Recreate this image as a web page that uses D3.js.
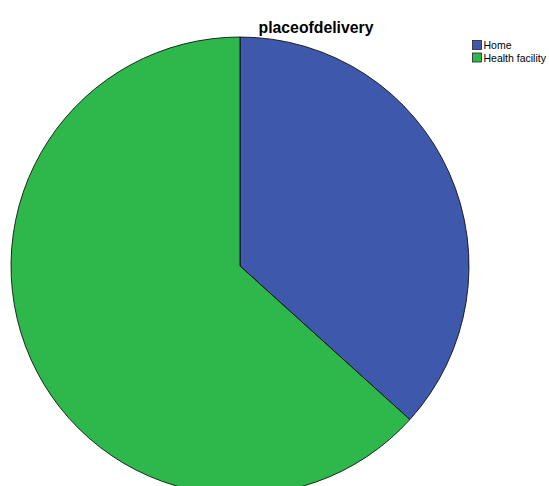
<!DOCTYPE html>
<html><head><meta charset="utf-8">
<script src="https://cdn.jsdelivr.net/npm/d3@7"></script>
<style>body{margin:0;background:#fff;}svg{display:block;}</style>
</head><body>
<script>
const categories = ["Home", "Health facility"];
const values = [36.7, 63.3];
const colors = ["#3e58ab", "#2eb74b"];
const title = "placeofdelivery";

const W = 549, H = 486;
const svg = d3.select("body").append("svg").attr("width", W).attr("height", H);
svg.append("rect").attr("width", W).attr("height", H).attr("fill", "#fff");

const cx = 240, cy = 266, r = 229;
const pie = d3.pie().sort(null).value(d => d.v);
const arcs = pie(categories.map((c, i) => ({c, v: values[i]})));
const arc = d3.arc().innerRadius(0).outerRadius(r);
const color = d3.scaleOrdinal().domain(categories).range(colors);

svg.append("g").attr("transform", `translate(${cx},${cy})`)
  .selectAll("path").data(arcs).join("path")
  .attr("d", arc).attr("fill", d => color(d.data.c))
  .attr("stroke", "#000").attr("stroke-width", 0.8).attr("stroke-linejoin", "round");

svg.append("text").attr("x", 316).attr("y", 33).attr("text-anchor", "middle")
  .attr("font-family", "Liberation Sans, Arial, sans-serif").attr("font-weight", "bold")
  .attr("font-size", 15.8).text(title);

const lg = svg.append("g").attr("transform", "translate(472,40)");
categories.forEach((c, i) => {
  const g = lg.append("g").attr("transform", `translate(0,${i * 12.5})`);
  g.append("rect").attr("x", 0.5).attr("y", 0.5).attr("width", 9).attr("height", 9)
    .attr("fill", color(c)).attr("stroke", "#222").attr("stroke-width", 0.8);
  g.append("text").attr("x", 11.5).attr("y", 9)
    .attr("font-family", "Liberation Sans, Arial, sans-serif").attr("font-size", 10.5)
    .attr("fill", "#000").text(c);
});
</script>
</body></html>
